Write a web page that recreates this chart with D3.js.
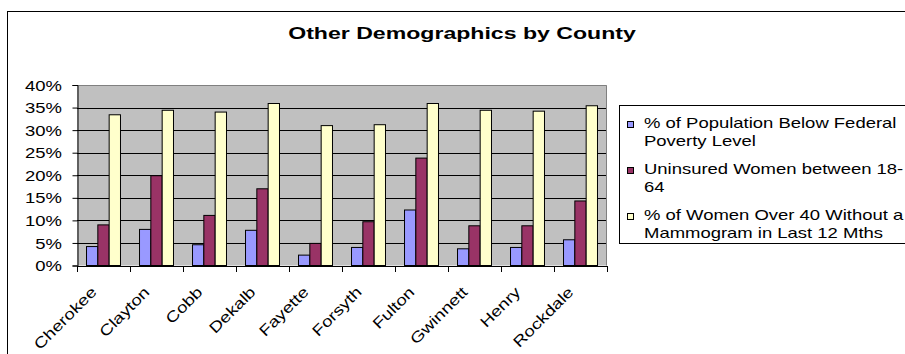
<!DOCTYPE html>
<html>
<head>
<meta charset="utf-8">
<script src="https://cdn.jsdelivr.net/npm/d3@7"></script>
<style>
  html, body { margin: 0; padding: 0; background: #fff; }
  svg { display: block; font-family: "Liberation Sans", Arial, Helvetica, sans-serif; }
</style>
</head>
<body>
<svg id="chart" width="905" height="354"></svg>
<script>
// Counties along the category axis
const counties = ["Cherokee", "Clayton", "Cobb", "Dekalb", "Fayette",
                  "Forsyth", "Fulton", "Gwinnett", "Henry", "Rockdale"];

// Series values, in percent
const povertyPct     = [4.2, 8.0, 4.6, 7.8, 2.3, 4.0, 12.3, 3.7, 4.0, 5.7];
const uninsuredPct   = [9.0, 19.9, 11.1, 17.0, 4.9, 9.7, 23.8, 8.8, 8.8, 14.3];
const noMammogramPct = [33.4, 34.4, 34.0, 35.9, 31.0, 31.2, 35.9, 34.4, 34.2, 35.4];

// Legend entries (each wraps onto two lines)
const seriesLabels = [
  ["% of Population Below Federal", "Poverty Level"],
  ["Uninsured Women between 18-", "64"],
  ["% of Women Over 40 Without a", "Mammogram in Last 12 Mths"]
];
const seriesColors = ["#9999FF", "#993366", "#FFFFCC"];

// Value-axis ticks
const yTicks = [0, 5, 10, 15, 20, 25, 30, 35, 40];

const chartTitle = "Other Demographics by County";

const series = [povertyPct, uninsuredPct, noMammogramPct];
const table = counties.map((c, i) => ({ county: c, values: series.map(s => s[i]) }));

const svg = d3.select("#chart");
const TX = 1.32;           // horizontal stretch of the chart's typeface
const fontSize = 14;

// Outer chart frame
svg.append("rect")
  .attr("x", 7.5).attr("y", 11.5)
  .attr("width", 960).attr("height", 400)
  .attr("fill", "#fff").attr("stroke", "#000").attr("stroke-width", 1);

// Plot area
const plot = { left: 77, right: 607, top: 85, bottom: 265.5 };

const x0 = d3.scaleBand().domain(counties)
  .range([plot.left, plot.right]).paddingInner(0).paddingOuter(0);
const x1 = d3.scaleBand().domain(d3.range(series.length))
  .range([0, x0.bandwidth()]).paddingInner(0).paddingOuter(0.84);
const y = d3.scaleLinear().domain([0, 40]).range([plot.bottom, plot.top]);

svg.append("rect")
  .attr("x", plot.left).attr("y", plot.top)
  .attr("width", plot.right - plot.left).attr("height", plot.bottom - plot.top)
  .attr("fill", "#C0C0C0");

// Gridlines
svg.append("g")
  .selectAll("line").data(yTicks.filter(t => t > 0 && t < 40)).join("line")
  .attr("x1", plot.left).attr("x2", plot.right)
  .attr("y1", d => Math.round(y(d)) + 0.5).attr("y2", d => Math.round(y(d)) + 0.5)
  .attr("stroke", "#000").attr("stroke-width", 1);

// Plot-area border (top and right)
svg.append("path")
  .attr("d", `M${plot.left},${plot.top + 0.5}H${plot.right - 0.5}V${plot.bottom}`)
  .attr("fill", "none").attr("stroke", "#808080").attr("stroke-width", 1);

// Bars
svg.append("g")
  .selectAll("g").data(table).join("g")
  .attr("transform", d => `translate(${x0(d.county)},0)`)
  .selectAll("rect").data(d => d.values.map((v, k) => ({ v, k }))).join("rect")
  .attr("x", d => x1(d.k))
  .attr("y", d => y(d.v))
  .attr("width", x1.bandwidth())
  .attr("height", d => y(0) - y(d.v))
  .attr("fill", d => seriesColors[d.k])
  .attr("stroke", "#000").attr("stroke-width", 1);

// Value axis
const yAxis = d3.axisLeft(y).tickValues(yTicks).tickSize(5).tickFormat(d => d + "%");
const gy = svg.append("g").attr("transform", `translate(${plot.left + 0.5},0)`).call(yAxis);
gy.select(".domain").attr("stroke", "#000");
gy.selectAll(".tick line").attr("stroke", "#000");
gy.selectAll(".tick text")
  .attr("x", 0).attr("dy", null)
  .attr("dominant-baseline", "central")
  .attr("font-size", fontSize).attr("fill", "#000")
  .attr("font-family", "Liberation Sans, Arial, sans-serif")
  .attr("text-anchor", "end")
  .attr("transform", `translate(${62 - plot.left - 0.5},0) scale(${TX},1)`);

// Category axis: line plus ticks at category boundaries
const boundaries = counties.map(c => x0(c)).concat([plot.right]);
const gx = svg.append("g");
gx.append("line")
  .attr("x1", plot.left).attr("x2", plot.right)
  .attr("y1", Math.round(y(0)) + 0.5).attr("y2", Math.round(y(0)) + 0.5)
  .attr("stroke", "#000");
gx.selectAll("line.tick").data(boundaries).join("line")
  .attr("class", "tick")
  .attr("x1", d => Math.round(d) + 0.5).attr("x2", d => Math.round(d) + 0.5)
  .attr("y1", Math.round(y(0))).attr("y2", Math.round(y(0)) + 6)
  .attr("stroke", "#000");
gx.selectAll("text").data(counties).join("text")
  .attr("transform", d => `translate(${x0(d) + x0.bandwidth() / 2 - 6},293) rotate(-45) scale(1.25,1)`)
  .attr("text-anchor", "end")
  .attr("font-size", 15)
  .attr("fill", "#000")
  .text(d => d);

// Title
svg.append("text")
  .attr("transform", `translate(462,39) scale(1.4,1)`)
  .attr("text-anchor", "middle")
  .attr("font-size", 16.5).attr("font-weight", "bold")
  .text(chartTitle);

// Legend
const legend = svg.append("g");
legend.append("rect")
  .attr("x", 619.5).attr("y", 105.5)
  .attr("width", 320).attr("height", 138)
  .attr("fill", "#fff").attr("stroke", "#000");
const entryGap = 46;
seriesLabels.forEach((lines, k) => {
  const base = 128 + k * entryGap;
  legend.append("rect")
    .attr("x", 627.5).attr("y", base - 6.5)
    .attr("width", 6).attr("height", 6)
    .attr("fill", seriesColors[k]).attr("stroke", "#000");
  lines.forEach((t, j) => {
    legend.append("text")
      .attr("transform", `translate(644,${base + j * 18}) scale(${TX},1)`)
      .attr("font-size", fontSize).attr("fill", "#000")
      .text(t);
  });
});
</script>
</body>
</html>
